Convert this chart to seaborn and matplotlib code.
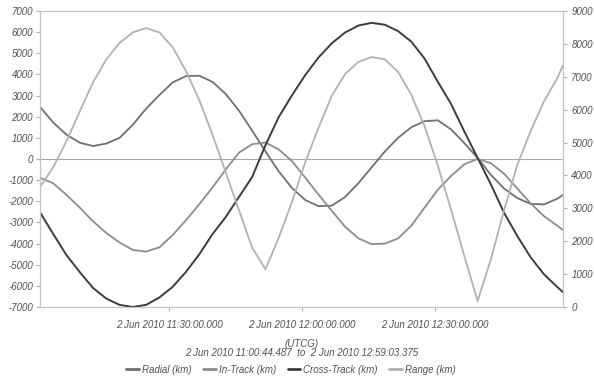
import matplotlib
matplotlib.use('Agg')
import matplotlib.pyplot as plt
from matplotlib.lines import Line2D
import seaborn as sns
import pandas as pd

# sample times, minutes after the first point
start = pd.Timestamp('2010-06-02 11:00:44.487')
end = pd.Timestamp('2010-06-02 12:59:03.375')
elapsed_min = [0, 3, 6, 9, 12, 15, 18, 21, 24, 27, 30, 33, 36, 39, 42, 45, 48, 51,
               54, 57, 60, 63, 66, 69, 72, 75, 78, 81, 84, 87, 90, 93, 96, 99, 102,
               105, 108, 111, 114, 117, 118.3148]

radial = [2470, 1720, 1150, 770, 615, 730, 1000, 1620, 2380, 3020, 3620, 3920, 3940,
          3650, 3080, 2290, 1340, 360, -580, -1370, -1940, -2230, -2210, -1800, -1150,
          -400, 350, 1000, 1500, 1790, 1830, 1400, 750, 50, -750, -1400, -1850, -2120,
          -2150, -1880, -1700]
in_track = [-890, -1150, -1700, -2300, -2950, -3500, -3950, -4300, -4380, -4180, -3600,
            -2900, -2150, -1350, -500, 300, 700, 780, 450, -100, -880, -1680, -2450,
            -3200, -3750, -4030, -4000, -3760, -3150, -2300, -1450, -800, -250, 0, -200,
            -700, -1400, -2100, -2700, -3150, -3357]
cross_track = [-2520, -3550, -4550, -5350, -6100, -6600, -6900, -7000, -6900, -6550,
               -6050, -5345, -4520, -3560, -2750, -1800, -850, 650, 1980, 3010, 3970,
               4800, 5470, 5980, 6310, 6440, 6350, 6050, 5550, 4750, 3650, 2600, 1300,
               50, -1200, -2550, -3650, -4650, -5450, -6050, -6300]
range_km = [3650, 4250, 5050, 5950, 6830, 7530, 8030, 8350, 8480, 8350, 7900, 7180,
            6300, 5250, 4100, 2950, 1800, 1150, 2100, 3200, 4400, 5450, 6420, 7080, 7450,
            7600, 7530, 7150, 6450, 5500, 4300, 2950, 1550, 180, 1450, 2950, 4330, 5350,
            6250, 6950, 7350]

labels = ['Radial (km)', 'In-Track (km)', 'Cross-Track (km)', 'Range (km)']
colors = ['#707070', '#8c8c8c', '#3c3c3c', '#b2b2b2']
tick_times = ['2010-06-02 11:30', '2010-06-02 12:00', '2010-06-02 12:30']
tick_labels = ['2 Jun 2010 11:30:00.000', '2 Jun 2010 12:00:00.000', '2 Jun 2010 12:30:00.000']

times = start + pd.to_timedelta(elapsed_min, unit='min')

sns.set_style('white')
plt.rcParams['font.family'] = ['Liberation Sans', 'DejaVu Sans']
plt.rcParams['font.style'] = 'italic'
plt.rcParams['axes.unicode_minus'] = False

fig = plt.figure(figsize=(5.94, 3.78), dpi=100)
ax = fig.add_axes([40 / 594, 1 - 307 / 378, 523 / 594, 296 / 378])
ax2 = ax.twinx()

ax.axhline(0, color='#a8a8a8', lw=0.8, zorder=1)
sns.lineplot(x=times, y=radial, ax=ax, color=colors[0], lw=1.3)
sns.lineplot(x=times, y=in_track, ax=ax, color=colors[1], lw=1.3)
sns.lineplot(x=times, y=cross_track, ax=ax, color=colors[2], lw=1.4)
sns.lineplot(x=times, y=range_km, ax=ax2, color=colors[3], lw=1.3)

ax.set_xlim(start, end)
ax.set_ylim(-7000, 7000)
ax.set_yticks(range(-7000, 7001, 1000))
ax2.set_ylim(0, 9000)
ax2.set_yticks(range(0, 9001, 1000))
ax.set_xticks(pd.to_datetime(tick_times))
ax.set_xticklabels(tick_labels)
ax.set_xlabel('')
ax.set_ylabel('')
ax2.set_ylabel('')

for a in (ax, ax2):
    for s in a.spines.values():
        s.set_color('#c4c4c4')
        s.set_linewidth(0.8)
    a.tick_params(labelsize=7, labelcolor='#505050', color='#b0b0b0', length=3, width=0.8)
ax.tick_params(axis='y', left=True, pad=2)
ax.tick_params(axis='x', bottom=True, pad=6)
ax2.tick_params(axis='y', right=True, pad=3)

fig.text(0.508, 0.089, '(UTCG)', ha='center', va='center', fontsize=7, color='#505050')
fig.text(0.508, 0.066, '2 Jun 2010 11:00:44.487  to  2 Jun 2010 12:59:03.375',
         ha='center', va='center', fontsize=7, color='#505050')

handles = [Line2D([], [], color=c, lw=2) for c in colors]
leg = fig.legend(handles, labels, loc='center', bbox_to_anchor=(0.49, 0.022), ncol=4,
                 frameon=False, fontsize=7, handlelength=1.3, handletextpad=0.3,
                 columnspacing=1.2)
for t in leg.get_texts():
    t.set_color('#505050')

fig.savefig('out.png', dpi=100)
